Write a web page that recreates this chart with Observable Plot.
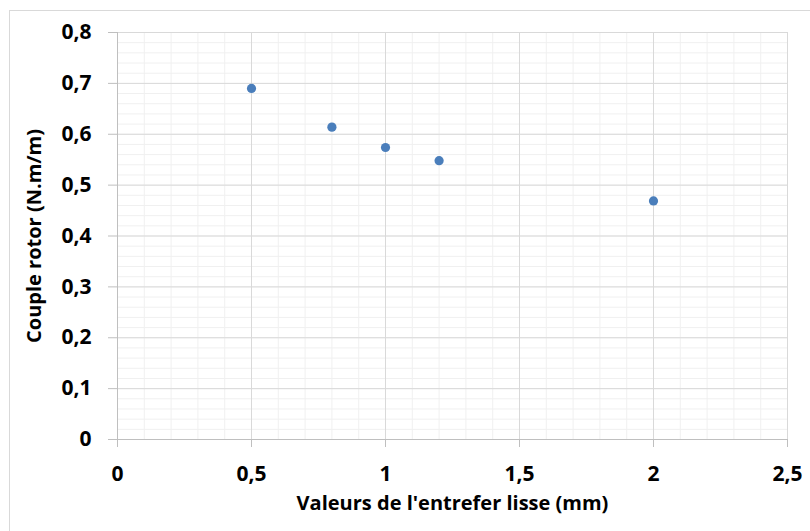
<!DOCTYPE html>
<html>
<head>
<meta charset="utf-8">
<script src="https://cdn.jsdelivr.net/npm/d3@7"></script>
<script src="https://cdn.jsdelivr.net/npm/@observablehq/plot@0.6"></script>
<style>
  html, body { margin: 0; padding: 0; background: #fff; }
  #wrap { position: relative; width: 810px; height: 531px; overflow: hidden; }
  #frame { position: absolute; left: 9px; top: 10px; width: 900px; height: 600px; border: 1px solid #d9d9d9; box-sizing: border-box; }
  #chart { position: absolute; left: 0; top: 0; }
</style>
</head>
<body>
<div id="wrap"><div id="frame"></div><div id="chart"></div></div>
<script>
const entrefer = [0.5, 0.8, 1.0, 1.2, 2.0];
const couple = [0.690, 0.614, 0.574, 0.548, 0.469];
const xTicks = [0, 0.5, 1, 1.5, 2, 2.5];
const yTicks = [0, 0.1, 0.2, 0.3, 0.4, 0.5, 0.6, 0.7, 0.8];
const xMinor = d3.range(0, 26).map(i => i / 10);
const yMinor = d3.range(0, 41).map(i => i / 50);
const xTitle = "Valeurs de l'entrefer lisse (mm)";
const yTitle = "Couple rotor (N.m/m)";

const data = entrefer.map((x, i) => ({x, y: couple[i]}));
const fmt = d => String(+d.toFixed(2)).replace(".", ",");
const font = "'Open Sans', sans-serif";

const chart = Plot.plot({
  width: 810,
  height: 531,
  marginLeft: 117,
  marginRight: 23,
  marginTop: 32,
  marginBottom: 92,
  style: { fontFamily: font, background: "transparent", overflow: "visible" },
  x: { domain: [0, 2.5] },
  y: { domain: [0, 0.8] },
  marks: [
    Plot.gridX(xMinor, { stroke: "#f0f0f0", strokeOpacity: 1 }),
    Plot.gridY(yMinor, { stroke: "#f0f0f0", strokeOpacity: 1 }),
    Plot.gridX(xTicks, { stroke: "#d9d9d9", strokeOpacity: 1 }),
    Plot.gridY(yTicks, { stroke: "#d9d9d9", strokeOpacity: 1 }),
    Plot.ruleX([0], { stroke: "#bfbfbf" }),
    Plot.ruleY([0], { stroke: "#bfbfbf" }),
    Plot.axisX(xTicks, { tickFormat: fmt, tickSize: 8, tickPadding: 19, stroke: "#bfbfbf", fill: "#000", fontSize: 21, fontWeight: "bold", label: null }),
    Plot.axisY(yTicks, { tickFormat: fmt, tickSize: 9, tickPadding: 17, stroke: "#bfbfbf", fill: "#000", fontSize: 21, fontWeight: "bold", label: null }),
    Plot.dot(data, { x: "x", y: "y", r: 4.6, fill: "#4a7ebb", stroke: "none" }),
    Plot.text([xTitle], { frameAnchor: "bottom", dy: 64.5, fontSize: 20, fontWeight: "bold", fill: "#000", lineAnchor: "middle", textAnchor: "middle" }),
    Plot.text([yTitle], { frameAnchor: "left", dx: -83, rotate: -90, fontSize: 20, fontWeight: "bold", fill: "#000", lineAnchor: "middle", textAnchor: "middle" })
  ]
});
document.getElementById("chart").appendChild(chart);
</script>
</body>
</html>
